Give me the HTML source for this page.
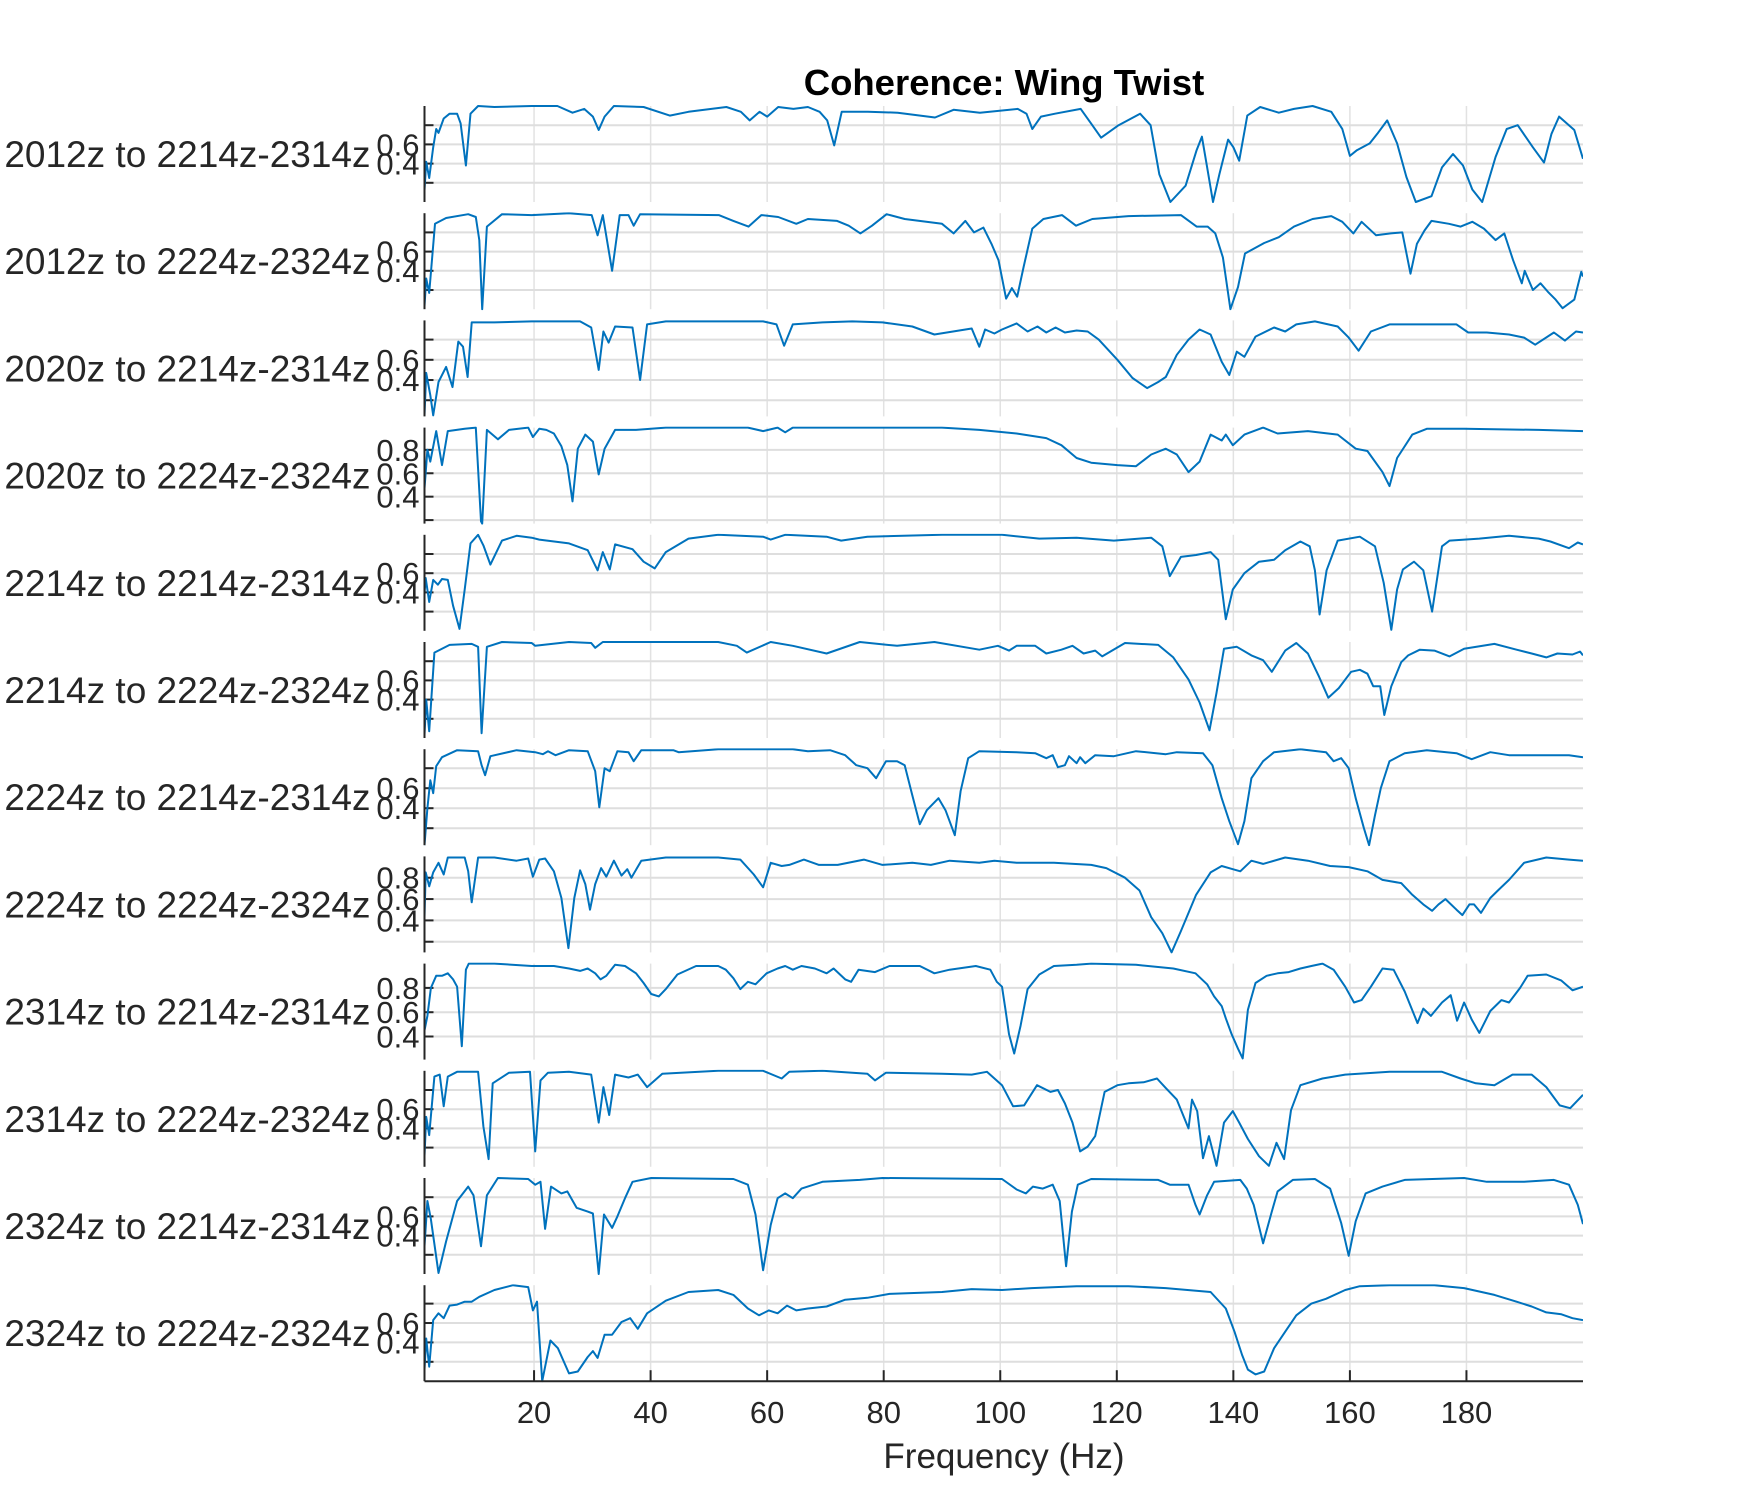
<!DOCTYPE html>
<html><head><meta charset="utf-8"><style>
html,body{margin:0;padding:0;background:#fff;}
svg{display:block;font-family:"Liberation Sans",Arial,sans-serif;}
</style></head><body>
<svg id="chart" width="1750" height="1488" viewBox="0 0 1750 1488" xmlns="http://www.w3.org/2000/svg">
<rect width="1750" height="1488" fill="#fff"/>
<text x="1004" y="95" text-anchor="middle" font-size="36.5" font-weight="bold" fill="#000">Coherence: Wing Twist</text>
<text x="1004" y="1468" text-anchor="middle" font-size="35" fill="#262626">Frequency (Hz)</text>
<g id="plots"></g>
</svg>
<script>
const ROW_LABELS = ["2012z to 2214z-2314z","2012z to 2224z-2324z","2020z to 2214z-2314z","2020z to 2224z-2324z","2214z to 2214z-2314z","2214z to 2224z-2324z","2224z to 2214z-2314z","2224z to 2224z-2324z","2314z to 2214z-2314z","2314z to 2224z-2324z","2324z to 2214z-2314z","2324z to 2224z-2324z"];
const X_TICKS = [20,40,60,80,100,120,140,160,180];
const Y_TICKS = [0.2,0.4,0.6,0.8];
const Y_MIN = [0,0,0.04,0.17,0,0,0.03,0.1,0.21,0,0,0];
const Y_MAX = [1,1,0.99,0.99,1,1,0.99,1,1,1,1,0.99];
const Y_TICK_LABELS = [["0.4","0.6"],["0.4","0.6"],["0.4","0.6"],["0.4","0.6","0.8"],["0.4","0.6"],["0.4","0.6"],["0.4","0.6"],["0.4","0.6","0.8"],["0.4","0.6","0.8"],["0.4","0.6"],["0.4","0.6"],["0.4","0.6"]];

const F1=[1.2,1.5,2,2.7,3.2,3.6,4.5,5.5,6.8,7.4,8.3,9.1,10.4,13.2,19.6,24,26.6,28.6,30.1,31.1,32.1,33.7,38.8,43.3,46.5,53,55.5,57,58.7,60,61.9,64.5,67,69,70.3,71.5,72.8,77.3,82.4,88.8,92,96.5,103,104.5,105.5,107,109.4,113.8,115.8,117.3,120.3,124,125.8,127.3,129.2,131.8,133.7,134.6,135.4,136.5,137.6,139.1,140,141,142.4,144.6,147.8,150.4,153.6,156.8,158.7,160,161.2,163.4,164.7,166.4,168.1,169.7,171.3,174,175.8,177.7,179.4,181,182.7,185,186.9,188.8,191.4,193.3,194.6,195.9,198.5,200];
const C1=[0.12,0.42,0.25,0.57,0.76,0.72,0.87,0.92,0.92,0.82,0.38,0.92,1.0,0.99,1.0,1.0,0.93,0.97,0.89,0.75,0.89,1.0,0.99,0.9,0.94,0.99,0.94,0.85,0.94,0.89,0.99,0.97,0.99,0.94,0.85,0.59,0.94,0.94,0.93,0.88,0.96,0.93,0.97,0.92,0.76,0.89,0.92,0.97,0.8,0.67,0.8,0.92,0.8,0.29,0.0,0.17,0.54,0.68,0.4,0.0,0.29,0.65,0.57,0.43,0.9,0.99,0.93,0.97,1.0,0.94,0.76,0.48,0.54,0.61,0.71,0.85,0.61,0.26,0.0,0.06,0.36,0.5,0.38,0.13,0.0,0.47,0.76,0.8,0.57,0.41,0.71,0.89,0.75,0.45];

const F2=[1.2,1.5,2,3,4.9,8.7,10,10.6,11.1,11.9,14.5,19.6,26,29.9,30.9,31.8,33.4,34.7,36.2,37.1,38.2,51.7,54.2,56.8,59,61.9,65,67,72,74,76,78,80.5,83.6,90,92,94,95.5,97.1,98.5,99.7,101,102,102.9,104,105.5,107.4,110.6,113,115.8,122,131,133.7,135.6,136.9,138.2,139.5,140.8,142,145.3,147.8,150.4,153.6,156.8,158.7,160.6,162,164.5,167,169,170.4,171.5,172.8,174,177,179,181,183,185,186.5,188,189.5,190,191.4,192.7,194,195.3,196.5,198.5,199.7,200];
const C2=[0.03,0.32,0.17,0.89,0.95,0.99,0.96,0.72,0.0,0.86,0.99,0.98,1.0,0.98,0.77,0.98,0.4,0.98,0.98,0.87,0.99,0.98,0.92,0.86,0.98,0.96,0.89,0.94,0.92,0.87,0.79,0.87,0.99,0.94,0.89,0.79,0.92,0.8,0.85,0.68,0.51,0.11,0.22,0.13,0.44,0.84,0.94,0.98,0.87,0.94,0.97,0.98,0.86,0.86,0.79,0.54,0.0,0.23,0.58,0.69,0.75,0.86,0.94,0.97,0.91,0.79,0.91,0.77,0.79,0.8,0.37,0.68,0.82,0.92,0.89,0.86,0.91,0.84,0.72,0.79,0.51,0.27,0.4,0.2,0.27,0.18,0.1,0.01,0.1,0.39,0.34];

const F3=[1.2,1.5,2.2,2.7,3.6,4.9,6.0,7.0,7.8,8.6,9.3,13.2,19.6,27.9,29.8,31.1,31.9,32.8,33.9,36.9,38.2,39.4,42.6,59.3,61.6,62.9,64.4,69.5,74.6,79.8,84.9,88.7,95.1,96.4,97.4,99,100.3,102.8,104.7,106.4,107.9,109.5,111.1,113.1,115,116.9,120.1,122.7,125.2,127.1,128.4,130.3,132.3,134.2,136.1,138,139.3,140.6,141.9,143.8,147,148.9,150.8,154,157.9,159.8,161.5,163.6,166.8,173.2,178.3,180.3,183.5,187.3,189.9,191.8,195,196.9,198.8,200];
const C3=[0.05,0.47,0.25,0.05,0.38,0.53,0.33,0.78,0.73,0.43,0.97,0.97,0.98,0.98,0.92,0.5,0.88,0.77,0.93,0.92,0.4,0.95,0.98,0.98,0.95,0.74,0.95,0.97,0.98,0.97,0.93,0.85,0.91,0.73,0.9,0.86,0.9,0.96,0.88,0.93,0.87,0.92,0.87,0.89,0.88,0.8,0.6,0.42,0.32,0.38,0.43,0.65,0.8,0.9,0.85,0.58,0.45,0.68,0.63,0.83,0.92,0.88,0.95,0.98,0.93,0.82,0.69,0.88,0.95,0.95,0.95,0.87,0.87,0.85,0.82,0.75,0.87,0.79,0.88,0.87];

const F4=[1.2,1.7,2.2,3.2,4.2,5.2,8.1,10,10.9,11.1,11.9,13.8,15.7,19,19.8,20.9,22.1,23.4,24.7,25.7,26.6,27.5,28.8,30.1,31.1,32.1,33.9,37.5,42.6,56.7,59.3,61.8,63.1,64.4,90,96.4,102.8,107.9,110.5,113.1,115.6,120.1,123.3,125.9,128.4,130.3,132.3,134.2,136.1,138,138.7,139.9,141.9,145.1,147.6,152.8,157.9,161,163,165.6,166.8,168.1,170.7,173.2,179.6,192.4,200];
const C4=[0.47,0.8,0.7,0.96,0.67,0.96,0.98,0.99,0.19,0.17,0.97,0.89,0.97,0.99,0.91,0.98,0.97,0.94,0.83,0.67,0.36,0.81,0.93,0.87,0.59,0.81,0.97,0.97,0.99,0.99,0.96,0.99,0.95,0.99,0.99,0.97,0.94,0.9,0.84,0.73,0.69,0.67,0.66,0.76,0.81,0.76,0.61,0.7,0.93,0.88,0.93,0.84,0.93,0.99,0.94,0.96,0.93,0.81,0.79,0.61,0.49,0.73,0.93,0.98,0.98,0.97,0.96];

const F5=[1.2,1.4,2,2.7,3.5,4.2,5.2,6.1,7.2,8.1,9.1,10.4,11.3,12.5,14.5,17,19.6,20.9,26,29.2,30.9,31.8,33,33.9,36.9,38.8,40.7,42.6,46.5,51.6,59.3,60.6,63.1,70.2,72.7,77.2,90,100.3,106.7,113.1,119.5,125.9,127.8,129.1,131,133.6,136.1,137.4,138.7,139.9,141.9,144.4,147,148.9,151.5,153.1,154,154.8,156,157.9,161.7,164.3,165.8,167.1,168.1,169.1,171,172.6,174.1,175.8,177.1,182.2,187.3,192.4,194.4,197.6,199.1,200];
const C5=[0.39,0.55,0.3,0.53,0.48,0.54,0.53,0.26,0.02,0.43,0.91,1.0,0.89,0.69,0.94,0.99,0.97,0.95,0.91,0.84,0.63,0.82,0.64,0.9,0.85,0.72,0.65,0.82,0.96,1.0,0.98,0.95,1.0,0.98,0.94,0.98,1.0,1.0,0.96,0.97,0.94,0.97,0.88,0.57,0.77,0.79,0.82,0.74,0.12,0.43,0.6,0.72,0.74,0.84,0.93,0.88,0.63,0.17,0.63,0.94,0.98,0.88,0.5,0.01,0.43,0.64,0.72,0.63,0.2,0.88,0.94,0.96,0.99,0.96,0.93,0.86,0.92,0.9];

const F6=[1.2,1.5,2,2.9,5.5,9.3,10.4,11,11.9,14.5,19.6,20.2,26,29.8,30.5,31.8,51.6,54.8,56.5,60.6,64.4,70.2,75.9,82.3,88.7,96.4,99.6,101.5,102.8,106,107.9,110.5,112.4,114.3,116.3,117.5,121.4,127.1,129.7,132.3,134.2,135.9,137.1,138.4,140.6,143.1,145.1,146.6,148.9,150.8,152.8,154.7,156.3,158.1,160.2,161.7,163,164,165.2,165.9,167.1,168.8,170,172,174.5,177.1,179.6,184.8,188.6,191.2,193.7,195.6,198.2,199.5,200];
const C6=[0.03,0.4,0.07,0.89,0.97,0.98,0.95,0.05,0.95,1.0,0.99,0.96,1.0,0.99,0.94,1.0,1.0,0.96,0.89,1.0,0.96,0.88,1.0,0.96,1.0,0.92,0.96,0.91,0.96,0.96,0.88,0.92,0.96,0.88,0.91,0.85,0.99,0.97,0.84,0.61,0.37,0.08,0.47,0.93,0.95,0.86,0.81,0.69,0.91,0.99,0.88,0.64,0.42,0.52,0.69,0.71,0.67,0.54,0.54,0.24,0.54,0.79,0.86,0.92,0.91,0.85,0.93,0.98,0.92,0.88,0.84,0.88,0.87,0.9,0.86];

const F7=[1.2,1.7,2.2,2.7,3.2,4.2,6.8,10.4,11,11.6,12.5,17,20.2,21.5,22.4,23.7,26,29.2,30.5,31.2,32.1,33,34.3,36.2,37.1,38.4,43.9,44.8,51.6,64.4,67,70.8,73.4,75.3,77.2,78.7,80.4,82.3,83.6,84.9,86.2,87.4,89.4,90.6,92.2,93.2,94.5,96.4,102.8,106,107.9,109,109.9,111.1,111.8,113.1,113.7,114.6,116.3,119.5,123.3,128.4,130.3,134.8,136.4,138,139.3,140.8,141.9,143.1,145.1,147,151.5,155.9,157.2,158.5,159.8,161,162.4,163.3,164.3,165.3,166.8,169.4,173.2,178.3,180.9,184.1,187.3,192.4,197.6,200];
const C7=[0.03,0.4,0.68,0.55,0.82,0.91,0.98,0.97,0.83,0.73,0.92,0.98,0.96,0.94,0.97,0.93,0.98,0.97,0.77,0.41,0.8,0.77,0.97,0.96,0.87,0.98,0.98,0.96,0.99,0.99,0.97,0.98,0.93,0.83,0.8,0.7,0.87,0.87,0.83,0.53,0.24,0.38,0.5,0.38,0.13,0.57,0.9,0.97,0.96,0.95,0.9,0.93,0.81,0.83,0.92,0.85,0.91,0.85,0.93,0.92,0.97,0.94,0.96,0.95,0.83,0.5,0.27,0.04,0.27,0.7,0.87,0.96,0.99,0.96,0.87,0.9,0.8,0.5,0.2,0.03,0.33,0.6,0.87,0.95,0.98,0.95,0.89,0.96,0.93,0.93,0.93,0.91];

const F8=[1.2,1.4,2,2.7,3.6,4.5,5.2,8.1,8.7,9.3,10.4,13.2,17,19,19.8,20.9,21.9,23.4,24.7,25.9,26.9,27.9,28.8,29.6,30.5,31.5,32.4,33.7,35,36,36.7,38.4,42.6,51.6,55.4,57.7,59.3,60.6,62.5,63.8,66.3,68.9,72.1,76.6,79.8,84.9,88.1,91.3,96.4,99,102.8,109.2,115.6,118.2,121.4,123.9,125.9,127.8,129.4,131,133.6,136.1,138,139.9,141.2,143.1,145.1,148.9,152.8,156.6,159.8,163,165.6,168.8,170.7,172.6,174.1,175.2,176.4,178.3,179.3,180.5,181.3,182.5,184.1,185.4,187.3,189.9,193.7,197.6,200];
const C8=[0.43,0.85,0.72,0.85,0.94,0.83,0.99,0.99,0.86,0.57,0.99,0.99,0.96,0.98,0.81,0.97,0.98,0.86,0.61,0.14,0.61,0.87,0.74,0.5,0.74,0.89,0.81,0.96,0.82,0.88,0.8,0.96,0.99,0.99,0.97,0.83,0.71,0.94,0.91,0.92,0.97,0.92,0.92,0.97,0.92,0.94,0.92,0.96,0.94,0.96,0.94,0.94,0.92,0.89,0.8,0.68,0.43,0.28,0.1,0.3,0.64,0.85,0.91,0.88,0.86,0.96,0.93,0.99,0.96,0.91,0.9,0.86,0.78,0.75,0.64,0.55,0.49,0.55,0.6,0.5,0.45,0.55,0.55,0.47,0.61,0.68,0.78,0.94,0.99,0.97,0.96];

const F9=[1.2,1.7,2.3,3.2,4.2,5.2,6.1,6.8,7.6,8.3,8.8,13.2,19.6,23.4,26,27.9,29.2,30.5,31.4,32.4,33.9,35.6,37.5,38.8,40.1,41.4,42.6,44.6,47.8,51.6,52.9,54.2,55.4,56.7,58,59.9,61.8,63.1,64.4,65.9,68.2,70.2,71.4,73.4,74.4,75.7,78.5,81,86.2,88.7,91.3,95.8,98.3,99.4,100.3,100.9,101.5,102.4,103.5,104.7,106.7,109.2,113.1,115.6,123.3,129.7,133.5,135.5,136.7,138,138.7,139.7,140.8,141.6,142.5,143.8,145.7,147.6,149.5,151.5,153.4,155.3,157.2,159.2,160.7,162,163.6,165.6,167.5,169.4,171.6,172.6,173.9,175.8,177.3,178.4,179.6,180.9,182.2,184.1,186,187.3,189.2,190.5,193.7,196.3,198.2,200];
const C9=[0.45,0.57,0.8,0.9,0.9,0.92,0.87,0.81,0.32,0.95,1.0,1.0,0.98,0.98,0.96,0.94,0.96,0.92,0.87,0.9,0.99,0.98,0.92,0.84,0.75,0.73,0.79,0.91,0.98,0.98,0.95,0.88,0.79,0.85,0.83,0.92,0.96,0.98,0.95,0.98,0.96,0.92,0.96,0.87,0.85,0.95,0.93,0.98,0.98,0.92,0.95,0.98,0.95,0.85,0.81,0.62,0.42,0.26,0.49,0.79,0.91,0.98,0.99,1.0,0.99,0.96,0.92,0.83,0.73,0.65,0.55,0.42,0.3,0.22,0.62,0.84,0.9,0.92,0.93,0.96,0.98,1.0,0.95,0.81,0.68,0.7,0.81,0.96,0.95,0.77,0.51,0.63,0.57,0.68,0.74,0.53,0.68,0.54,0.43,0.61,0.7,0.68,0.8,0.9,0.91,0.86,0.78,0.81];

const F10=[1.2,1.5,2,2.9,3.8,4.5,5.2,6.8,10.4,11.3,12.2,12.9,15.7,19.3,20.2,21.1,22.4,26,29.8,31.1,31.9,32.9,33.9,36.2,37.8,39.4,42,45.2,51.6,59.3,62.5,63.8,69.5,77.2,78.5,80.4,90,95.1,97.7,100.3,102.2,104.1,106.3,108.6,109.9,111.1,112.4,113.7,115,116.3,117.9,120.1,122,124.6,126.9,128.4,130.3,132.3,132.9,133.8,134.8,135.8,137.1,138.4,139.9,141,142.5,144.4,146.1,147.4,148.7,149.9,151.5,155.3,159.2,166.8,175.8,179,181.6,184.8,187.9,191.2,193.7,196,197.8,200];
const C10=[0.11,0.52,0.33,0.94,0.96,0.63,0.94,0.99,0.99,0.42,0.08,0.87,0.98,0.99,0.16,0.9,0.98,0.99,0.96,0.46,0.83,0.54,0.96,0.93,0.96,0.83,0.97,0.98,1.0,1.0,0.92,0.99,1.0,0.97,0.9,0.98,0.97,0.96,0.99,0.85,0.63,0.64,0.85,0.78,0.8,0.66,0.46,0.16,0.21,0.32,0.78,0.85,0.87,0.88,0.92,0.82,0.7,0.4,0.7,0.58,0.09,0.32,0.01,0.46,0.58,0.46,0.29,0.11,0.01,0.25,0.08,0.59,0.85,0.92,0.96,0.99,0.99,0.92,0.87,0.85,0.96,0.96,0.83,0.64,0.61,0.75];

const F11=[1.2,1.7,2.3,3.6,4.9,6.8,8.7,9.6,10.9,11.9,13.8,19,20.2,21.1,21.9,22.9,24.7,25.7,27.3,29.2,30.1,31.1,32,33.4,34.3,35.6,36.9,40.1,54.2,56.7,58,59.3,60.6,61.8,63.1,64.4,65.9,69.5,75.9,79.8,100.3,102.8,104.4,105.6,107.3,109,110.2,111.3,112.3,113.3,115.6,127.1,129.1,132.3,133.5,134.2,135.5,136.7,141.2,142.3,143.5,145.1,146.6,147.6,150.2,154,156.6,158.5,159.8,161,162.7,165.6,169.4,179.6,183.5,189.9,195,197.6,199.1,200];
const C11=[0.29,0.76,0.57,0.01,0.34,0.76,0.91,0.82,0.29,0.82,1.0,0.99,0.93,0.96,0.47,0.91,0.84,0.86,0.69,0.65,0.63,0.0,0.62,0.48,0.6,0.79,0.96,1.0,0.99,0.93,0.62,0.04,0.51,0.79,0.84,0.79,0.89,0.96,0.98,1.0,0.99,0.88,0.84,0.91,0.89,0.93,0.76,0.08,0.65,0.93,0.99,0.98,0.93,0.93,0.72,0.62,0.82,0.96,0.98,0.89,0.72,0.32,0.65,0.86,0.98,0.99,0.89,0.53,0.19,0.55,0.84,0.91,0.98,1.0,0.96,0.96,0.98,0.93,0.72,0.52];

const F12=[1.2,1.5,2,2.7,3.6,4.5,5.5,6.8,8.1,9.3,10.6,13.2,16.4,19,19.8,20.5,21.4,22.8,24.1,26,27.5,29.2,30.1,30.9,32.1,33.4,35,36.5,37.8,39.4,42.6,46.5,51.6,54.2,56.7,58.6,60.3,61.8,63.4,65,67,70.2,73.4,77.2,81,90,95.1,100.3,105.4,113.1,122,128.4,136.1,138.7,140.2,141.5,142.5,143.8,145.3,147,148.9,150.8,153.4,155.9,159.2,161.7,166.8,174.5,179.6,184.8,188.6,191.2,193.7,196.3,198.2,200];
const C12=[0.12,0.44,0.15,0.63,0.7,0.65,0.78,0.79,0.82,0.82,0.87,0.94,0.99,0.97,0.73,0.82,0.0,0.42,0.34,0.08,0.1,0.25,0.31,0.24,0.48,0.48,0.61,0.65,0.54,0.7,0.83,0.92,0.94,0.89,0.75,0.68,0.73,0.7,0.78,0.73,0.75,0.77,0.84,0.86,0.9,0.92,0.95,0.94,0.96,0.98,0.98,0.96,0.92,0.75,0.51,0.27,0.12,0.07,0.1,0.34,0.51,0.68,0.8,0.85,0.94,0.98,0.99,0.99,0.96,0.89,0.82,0.77,0.71,0.69,0.65,0.63];

const FREQS=[F1,F2,F3,F4,F5,F6,F7,F8,F9,F10,F11,F12];
const COHS=[C1,C2,C3,C4,C5,C6,C7,C8,C9,C10,C11,C12];

(function(){
  const NS="http://www.w3.org/2000/svg";
  const g=document.getElementById('plots');
  const AX_L=424.5, AX_R=1583, X_MIN=1.2, X_MAX=200;
  const TOP0=106, PITCH=107.2, H=96;
  const xs=f=>AX_L+(f-X_MIN)/(X_MAX-X_MIN)*(AX_R-AX_L);
  function mk(tag,attrs,parent){const e=document.createElementNS(NS,tag);for(const k in attrs)e.setAttribute(k,attrs[k]);parent.appendChild(e);return e;}
  const defs=mk('defs',{},g);
  for(let i=0;i<12;i++){
    const top=TOP0+i*PITCH, bot=top+H;
    const ymin=Y_MIN[i], ymax=Y_MAX[i];
    const ys=v=>bot-(v-ymin)/(ymax-ymin)*H;
    const ax=mk('g',{},g);
    
    
    const cp=mk('clipPath',{id:'cp'+i},defs);
    mk('rect',{x:AX_L,y:top-1,width:AX_R-AX_L,height:H+2},cp);
    X_TICKS.forEach(t=>{
      const l=mk('line',{x1:xs(t),x2:xs(t),y1:top,y2:bot,stroke:'#e2e2e2','stroke-width':1.5},ax);
      
      
    });
    Y_TICKS.forEach(t=>{
      if(t<ymin||t>ymax)return;
      const y=ys(t);
      const l=mk('line',{x1:AX_L,x2:AX_R,y1:y,y2:y,stroke:'#dedede','stroke-width':2},ax);
      
      
      const tk=mk('line',{x1:AX_L,x2:AX_L+9,y1:y,y2:y,stroke:'#262626','stroke-width':2},ax);
      
      
    });
    Y_TICK_LABELS[i].forEach(s=>{
      const v=parseFloat(s);
      const tx=mk('text',{x:AX_L-5,y:ys(v)+11,'text-anchor':'end','font-size':31,fill:'#262626'},ax);
      tx.textContent=s;
      
      
    });
    const F=FREQS[i], C=COHS[i], n=Math.min(F.length,C.length);
    let d='';
    for(let k=0;k<n;k++){d+=(k?'L':'M')+xs(F[k]).toFixed(1)+','+ys(C[k]).toFixed(1);}
    const p=mk('path',{d:d,fill:'none',stroke:'#0072BD','stroke-width':2,'stroke-linejoin':'round','clip-path':'url(#cp'+i+')'},ax);
    
    
    const yl=mk('line',{x1:AX_L,x2:AX_L,y1:top,y2:bot,stroke:'#262626','stroke-width':2},ax);
    
    
    const lab=mk('text',{x:AX_L-54,y:top+H/2+13,'text-anchor':'end','font-size':37,fill:'#262626'},ax);
    lab.textContent=ROW_LABELS[i];
    
    
    if(i===11){
      const xl=mk('line',{x1:AX_L,x2:AX_R,y1:bot,y2:bot,stroke:'#262626','stroke-width':2},ax);
      
      
      X_TICKS.forEach(t=>{
        const tk=mk('line',{x1:xs(t),x2:xs(t),y1:bot,y2:bot-11,stroke:'#262626','stroke-width':2},ax);
        
        
        const tl=mk('text',{x:xs(t),y:bot+42,'text-anchor':'middle','font-size':31,fill:'#262626'},ax);
        tl.textContent=String(t);
        
        
      });
    }
  }
})();
</script>
</body></html>
